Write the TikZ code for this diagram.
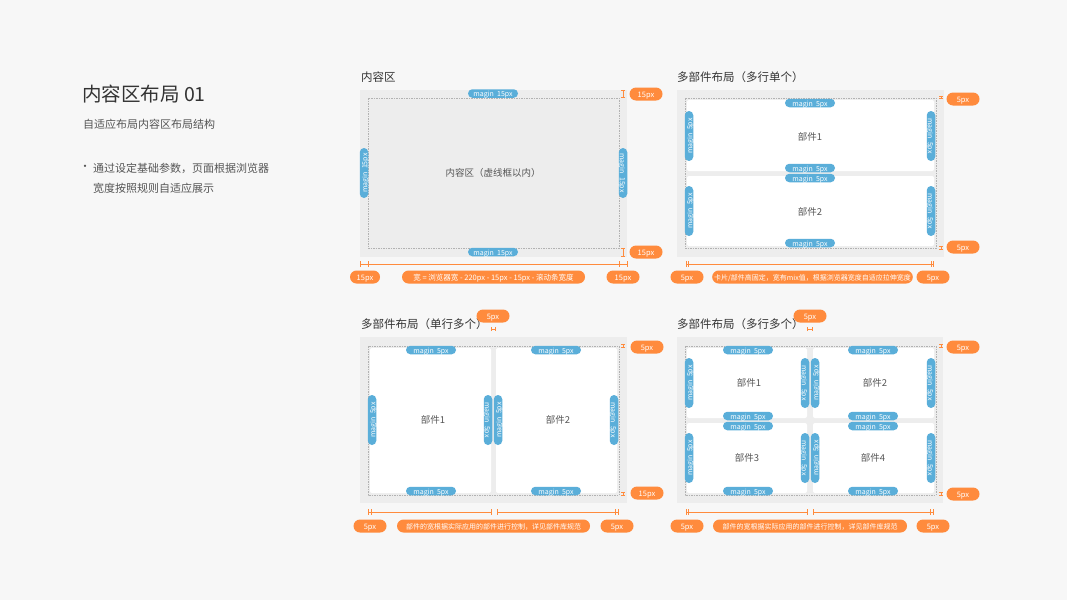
\documentclass[tikz,border=0pt]{standalone}
\usepackage{fontspec}
\setmainfont{Noto Sans CJK SC}
\usepackage{xcolor}
\usetikzlibrary{arrows.meta, positioning}
\definecolor{pagebg}{HTML}{F7F7F7}
\definecolor{panelgrey}{HTML}{EDEDED}
\definecolor{magblue}{HTML}{5AAED9}
\definecolor{dimorange}{HTML}{FF8B3D}
\definecolor{inkdark}{HTML}{333333}
\definecolor{inkgrey}{HTML}{555555}
\tikzset{
  panel/.style={fill=panelgrey},
  innerbox/.style={draw=gray!60, dash pattern=on 1.5pt off 1pt, line width=0.5pt},
  card/.style={fill=white, rounded corners=2pt},
  magpill/.style={fill=magblue, text=white, rounded corners=4.25pt, minimum width=50pt, minimum height=8.5pt, inner sep=0pt, text height=0.7em, text depth=0.05em, font=\fontsize{7}{7}\selectfont},
  dimpill/.style={fill=dimorange, text=white, rounded corners=6.5pt, minimum width=33pt, minimum height=13pt, inner sep=2pt, text height=0.72em, text depth=0.02em, font=\fontsize{7.5}{8}\selectfont},
  dimline/.style={dimorange, line width=0.6pt},
  dimbar/.style={dimline, {Bar[width=4pt]}-{Bar[width=4pt]}},
  cardlabel/.style={text=inkgrey, font=\fontsize{9.5}{10}\selectfont},
  paneltitle/.style={text=inkdark, anchor=base west, font=\fontsize{11.5}{12}\selectfont},
}
\newcommand{\magtext}[1]{magin\ \ #1}

\begin{document}
\begin{tikzpicture}[x=1pt, y=-1pt]
            \fill[pagebg] (0,0) rectangle (1067,600);
            \useasboundingbox (0,0) rectangle (1067,600);
            % Left text
            \node[anchor=base west, inner sep=0, text=inkdark, font=\fontsize{19.5}{22}\selectfont] (pagetitle) at (82,101) {内容区布局 01};
            \node[anchor=base west, inner sep=0, text=inkgrey, font=\fontsize{11}{12}\selectfont] (subtitle) at (83,128) {自适应布局内容区布局结构};
            \node[text=inkgrey, inner sep=0, font=\fontsize{11}{12}\selectfont] (dot) at (85,168) {·};
            \node[anchor=base west, inner sep=0, text=inkgrey, font=\fontsize{11}{12}\selectfont] (lineone) at (93,172) {通过设定基础参数，页面根据浏览器};
            \node[anchor=base west, inner sep=0, text=inkgrey, font=\fontsize{11}{12}\selectfont] (linetwo) at (93,192) {宽度按照规则自适应展示};

            % Panel 1: content area
            \node[paneltitle, inner sep=0] (titleA) at (361,81) {内容区};
            \fill[panel] (360,90) rectangle (627,257);
            \draw[innerbox] (368,98) rectangle (619,248);
            \node[cardlabel] (areaA) at (493,173) {内容区（虚线框以内）};
            \node[magpill] (aTop) at (493,93.5) {\magtext{15px}};
            \node[magpill] (aBot) at (493,252) {\magtext{15px}};
            \node[magpill, rotate=90] (aLeft) at (364,173) {\magtext{15px}};
            \node[magpill, rotate=-90] (aRight) at (623,173) {\magtext{15px}};
            \draw[dimbar] (623,90) -- (623,98);
            \draw[dimbar] (623,248) -- (623,257);
            \node[dimpill] (aTopPx) at (646,94) {15px};
            \node[dimpill] (aBotPx) at (646,252) {15px};
            \draw[dimline] (360,264) -- (627,264);
            \foreach \tx in {360,368,619,627} \draw[dimline] (\tx,261) -- (\tx,267);
            \node[dimpill, minimum width=30pt] (aLeftPx) at (365,277) {15px};
            \node[dimpill, minimum width=183pt] (aWidth) at (493.5,277) {宽 = 浏览器宽 - 220px - 15px - 15px - 滚动条宽度};
            \node[dimpill] (aRightPx) at (623,277) {15px};

            % Panel 2: rows, one per row
            \node[paneltitle, inner sep=0] (titleB) at (677,81) {多部件布局（多行单个）};
            \fill[panel] (677,90) rectangle (944,257);
            \fill[card] (687,100) rectangle (934,171);
            \fill[card] (687,176) rectangle (934,246);
            \draw[innerbox] (685,98) rectangle (936,248);
            \node[cardlabel] (partB1) at (810,137) {部件1};
            \node[cardlabel] (partB2) at (810,212) {部件2};
            \foreach \ty [count=\i] in {103,168,178,243}
              \node[magpill] (bH\i) at (810,\ty) {\magtext{5px}};
            \foreach \ty [count=\i] in {136,211} {
              \node[magpill, rotate=90] (bL\i) at (689,\ty) {\magtext{5px}};
              \node[magpill, rotate=-90] (bR\i) at (931,\ty) {\magtext{5px}};
            }
            \draw[dimbar] (941,95.5) -- (941,99);
            \draw[dimbar] (941,246) -- (941,249.5);
            \node[dimpill] (bTopPx) at (963,99) {5px};
            \node[dimpill] (bBotPx) at (963,247) {5px};
            \draw[dimline] (686,264) -- (933,264);
            \foreach \tx in {686,688,931,933} \draw[dimline] (\tx,261) -- (\tx,267);
            \node[dimpill] (bLeftPx) at (687,277) {5px};
            \node[dimpill, minimum width=199pt, font=\fontsize{7}{8}\selectfont] (bWidth) at (812.5,277) {卡片/部件高固定，宽有mix值，根据浏览器宽度自适应拉伸宽度};
            \node[dimpill] (bRightPx) at (933,277) {5px};

            % Panel 3: one row, several parts
            \node[paneltitle, inner sep=0] (titleC) at (361,328) {多部件布局（单行多个）};
            \fill[panel] (360,337) rectangle (627,503);
            \fill[card] (370,348) rectangle (491,493);
            \fill[card] (496,348) rectangle (617,493);
            \draw[innerbox] (368,346) rectangle (619,495);
            \node[cardlabel] (partC1) at (433,420) {部件1};
            \node[cardlabel] (partC2) at (558,420) {部件2};
            \foreach \tx [count=\i] in {431,556} {
              \node[magpill] (cT\i) at (\tx,350) {\magtext{5px}};
              \node[magpill] (cB\i) at (\tx,491) {\magtext{5px}};
            }
            \foreach \tx [count=\i] in {372,498}
              \node[magpill, rotate=90] (cL\i) at (\tx,420) {\magtext{5px}};
            \foreach \tx [count=\i] in {488,614}
              \node[magpill, rotate=-90] (cR\i) at (\tx,420) {\magtext{5px}};
            \node[dimpill] (cGapPx) at (493,316) {5px};
            \draw[dimbar] (491,329) -- (496,329);
            \draw[dimbar] (623,344) -- (623,347.5);
            \draw[dimbar] (623,492) -- (623,495.5);
            \node[dimpill] (cTopPx) at (647,347) {5px};
            \node[dimpill] (cBotPx) at (647,493) {15px};
            \draw[dimline] (368,512) -- (491,512);
            \draw[dimline] (497,512) -- (618,512);
            \foreach \tx in {368,371,491,497,615,618} \draw[dimline] (\tx,509) -- (\tx,515);
            \node[dimpill] (cLeftPx) at (370,526) {5px};
            \node[dimpill, minimum width=193pt, font=\fontsize{7}{8}\selectfont] (cWidth) at (493.5,526) {部件的宽根据实际应用的部件进行控制，详见部件库规范};
            \node[dimpill] (cRightPx) at (617,526) {5px};

            % Panel 4: rows, several per row
            \node[paneltitle, inner sep=0] (titleD) at (677,328) {多部件布局（多行多个）};
            \fill[panel] (677,337) rectangle (943,503);
            \fill[card] (687,348) rectangle (807,418);
            \fill[card] (813,348) rectangle (934,418);
            \fill[card] (687,423) rectangle (807,493);
            \fill[card] (813,423) rectangle (934,493);
            \draw[innerbox] (685,346) rectangle (936,495);
            \node[cardlabel] (partD1) at (749,383) {部件1};
            \node[cardlabel] (partD2) at (875,383) {部件2};
            \node[cardlabel] (partD3) at (747,458) {部件3};
            \node[cardlabel] (partD4) at (873,458) {部件4};
            \foreach \ty [count=\i] in {350,416,426,491} {
              \node[magpill] (dHa\i) at (748,\ty) {\magtext{5px}};
              \node[magpill] (dHb\i) at (873,\ty) {\magtext{5px}};
            }
            \foreach \ty [count=\i] in {383,458} {
              \node[magpill, rotate=90] (dLa\i) at (689,\ty) {\magtext{5px}};
              \node[magpill, rotate=-90] (dRa\i) at (805,\ty) {\magtext{5px}};
              \node[magpill, rotate=90] (dLb\i) at (815,\ty) {\magtext{5px}};
              \node[magpill, rotate=-90] (dRb\i) at (931,\ty) {\magtext{5px}};
            }
            \node[dimpill] (dGapPx) at (810,316) {5px};
            \draw[dimbar] (807,329) -- (813,329);
            \draw[dimbar] (941,344) -- (941,347.5);
            \draw[dimbar] (941,492) -- (941,495.5);
            \node[dimpill] (dTopPx) at (963,347) {5px};
            \node[dimpill] (dBotPx) at (963,494) {5px};
            \draw[dimline] (686,512) -- (807,512);
            \draw[dimline] (813,512) -- (933,512);
            \foreach \tx in {686,688,807,813,930,933} \draw[dimline] (\tx,509) -- (\tx,515);
            \node[dimpill] (dLeftPx) at (687,526) {5px};
            \node[dimpill, minimum width=194pt, font=\fontsize{7}{8}\selectfont] (dWidth) at (810,526) {部件的宽根据实际应用的部件进行控制，详见部件库规范};
            \node[dimpill] (dRightPx) at (933,526) {5px};
        \end{tikzpicture}
\end{document}
